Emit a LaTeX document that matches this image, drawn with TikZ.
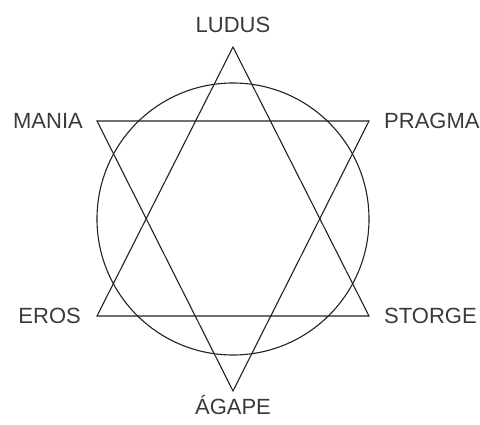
\documentclass[tikz,border=0pt]{standalone}
\usepackage{fontspec}
\setmainfont{Liberation Sans}
\usetikzlibrary{positioning}
\definecolor{ink}{HTML}{222222}
\definecolor{labelgray}{HTML}{3A3A3A}

\begin{document}
\begin{tikzpicture}[x=1pt,y=-1pt,
    figline/.style={draw=ink,line width=1.1pt,line join=miter},
    namelabel/.style={font=\fontsize{22}{26}\selectfont,text=labelgray,inner sep=0pt}]
  \useasboundingbox (0,0) rectangle (480,425);
  % vertices of the two triangles
  \coordinate (top) at (233,47);
  \coordinate (bot) at (233,391);
  \coordinate (tl) at (97,121);
  \coordinate (tr) at (369,121);
  \coordinate (bl) at (97,316);
  \coordinate (br) at (369,316);
  \coordinate (mid) at (233,219);
  \draw[figline] (mid) circle[radius=136];
  \draw[figline] (top) -- (bl) -- (br) -- cycle;
  \draw[figline] (tl) -- (tr) -- (bot) -- cycle;
  % names
  \node[namelabel,above=14pt of top] (ludus) {LUDUS};
  \node[namelabel,left=14pt of tl] (mania) {MANIA};
  \node[namelabel,right=15pt of tr] (pragma) {PRAGMA};
  \node[namelabel,left=16pt of bl] (eros) {EROS};
  \node[namelabel,right=15pt of br] (storge) {STORGE};
  \node[namelabel,below=4pt of bot] (agape) {ÁGAPE};
\end{tikzpicture}
\end{document}
